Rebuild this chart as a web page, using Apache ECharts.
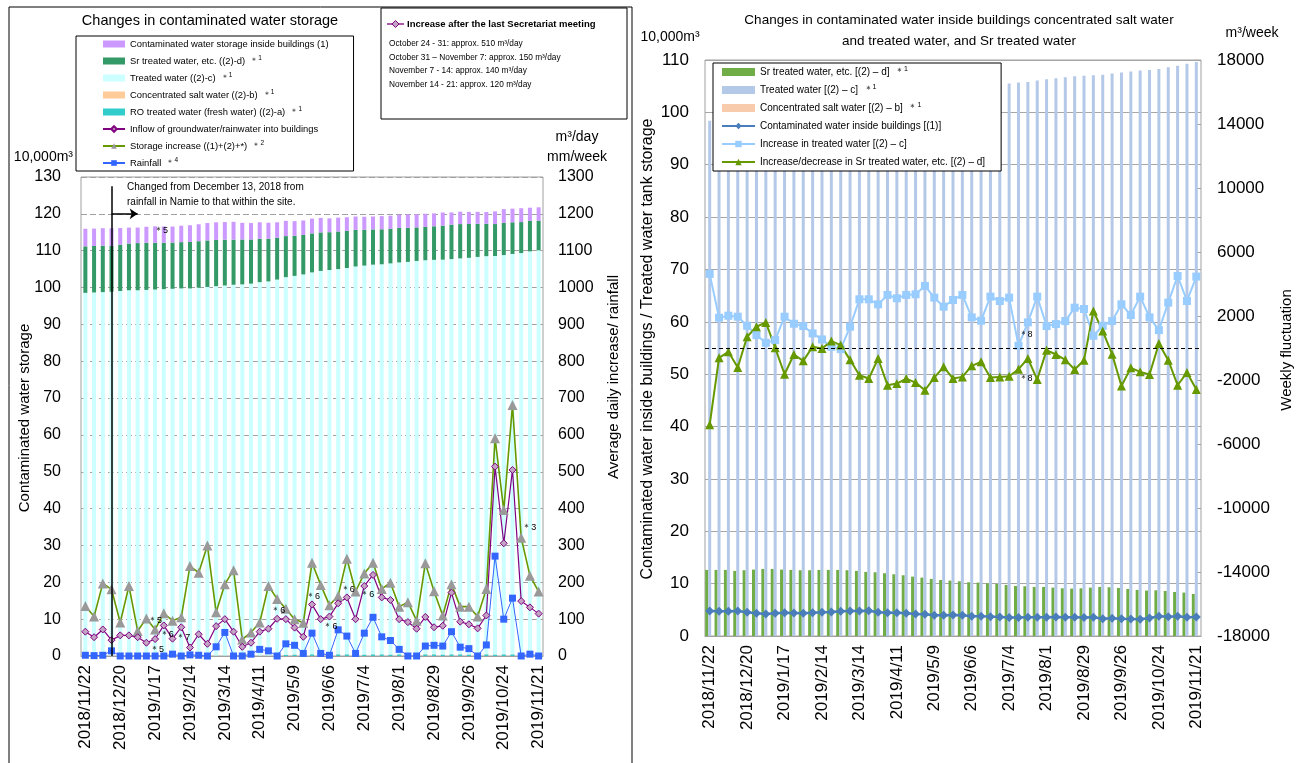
<!DOCTYPE html>
<html><head><meta charset="utf-8">
<script src="https://cdn.jsdelivr.net/npm/echarts@6/dist/echarts.min.js"></script>
<style>html,body{margin:0;padding:0;background:#fff}#c{width:1297px;height:763px}</style>
</head><body><div id="c"></div>
<script>
// ---------- DATA ----------
const categories = ['2018/11/22','2018/11/29','2018/12/6','2018/12/13','2018/12/20','2018/12/27',
 '2019/1/3','2019/1/10','2019/1/17','2019/1/24','2019/1/31','2019/2/7','2019/2/14','2019/2/21','2019/2/28',
 '2019/3/7','2019/3/14','2019/3/21','2019/3/28','2019/4/4','2019/4/11','2019/4/18','2019/4/25',
 '2019/5/2','2019/5/9','2019/5/16','2019/5/23','2019/5/30','2019/6/6','2019/6/13','2019/6/20','2019/6/27',
 '2019/7/4','2019/7/11','2019/7/18','2019/7/25','2019/8/1','2019/8/8','2019/8/15','2019/8/22','2019/8/29',
 '2019/9/5','2019/9/12','2019/9/19','2019/9/26','2019/10/3','2019/10/10','2019/10/17','2019/10/24','2019/10/31',
 '2019/11/7','2019/11/14','2019/11/21'];

// storage, 10,000 m3
const treatedWater = [98.4,98.5,98.6,98.7,98.9,99.1,99.1,99.2,99.3,99.4,99.5,99.6,99.6,99.8,100.0,100.2,100.4,100.6,100.7,100.9,
 101.3,101.5,102.0,102.4,102.7,103.1,103.6,104.0,104.3,104.5,104.8,105.2,105.5,105.7,105.8,106.1,106.3,106.5,106.7,106.9,
 107.0,107.1,107.2,107.4,107.6,107.8,108.0,108.1,108.3,108.6,108.9,109.3,109.6];
const srTreatedWater = [12.62,12.62,12.62,12.43,12.56,12.68,12.81,12.81,12.68,12.62,12.56,12.56,12.62,12.62,12.62,12.56,12.43,12.24,
 12.17,11.98,11.79,11.60,11.34,11.15,10.90,10.70,10.58,10.45,10.26,10.20,10.07,9.94,9.75,9.56,9.50,9.37,9.37,9.24,9.11,9.05,
 9.11,9.24,9.37,9.31,9.18,8.99,8.80,8.67,8.73,8.60,8.41,8.29,8.03];
const contaminatedInside = [4.78,4.72,4.72,4.78,4.53,4.33,4.21,4.33,4.46,4.40,4.33,4.46,4.53,4.59,4.72,4.78,4.78,4.84,4.53,4.46,
 4.46,4.33,4.21,4.14,3.95,3.95,4.02,3.95,3.76,3.76,3.70,3.63,3.51,3.51,3.57,3.57,3.57,3.63,3.57,3.57,
 3.51,3.57,3.31,3.38,3.31,3.25,3.19,3.44,3.76,3.70,3.76,3.57,3.63];
const concentratedSalt = [0.06,0.06,0.06,0.06,0.06,0.06,0.06,0.06,0.06,0.06,0.06,0.06,0.06,0.06,0.06,0.06,0.06,0.06,0.06,0.06,
 0.06,0.06,0.06,0.06,0.06,0.06,0.06,0.06,0.06,0.06,0.06,0.06,0.06,0.06,0.06,0.06,0.06,0.06,0.06,0.06,
 0.06,0.06,0.06,0.06,0.06,0.06,0.06,0.06,0.06,0.06,0.06,0.06,0.06];
const roTreatedWater = [0.10,0.10,0.10,0.10,0.10,0.10,0.10,0.10,0.10,0.10,0.10,0.10,0.10,0.10,0.10,0.10,0.10,0.10,0.10,0.10,
 0.10,0.10,0.10,0.35,0.40,0.40,0.45,0.45,0.40,0.45,0.45,0.45,0.40,0.45,0.45,0.40,0.45,0.40,0.45,0.45,
 0.45,0.40,0.45,0.45,0.40,0.45,0.45,0.40,0.45,0.45,0.40,0.45,0.45];

// left chart lines: m3/day and mm/week
const inflowGroundRain = [66,51,72,43,56,56,51,36,46,83,47,78,23,59,33,81,100,66,25,36,66,74,101,100,77,52,140,100,107,143,
 159,100,190,220,159,152,100,92,74,106,78,82,172,93,86,75,110,514,306,505,149,132,115];
const storageIncrease = [136,107,197,181,91,190,68,102,72,116,96,105,244,226,300,119,195,233,45,64,91,190,155,128,100,90,
 253,193,138,163,264,175,224,253,182,199,134,146,96,252,176,110,195,134,134,107,182,591,396,681,321,218,175];
const rainfall = [2,1,2,14,0,0,0,0,0,0,5,0,3,2,0,25,64,0,0,5,18,14,0,33,29,7,62,7,2,71,54,7,62,105,52,42,18,0,0,27,
 29,27,66,24,20,0,30,271,100,157,0,5,0];

// right chart lines: m3/week
const treatedWeeklyIncrease = [4631,1893,2019,1956,1392,807,326,493,1956,1517,1371,911,535,75,-71,1329,3043,3043,2729,3315,
 3106,3315,3356,3879,3148,2583,3001,3315,1914,1705,3210,2938,3148,138,1601,3210,1371,1496,1684,2520,
 2436,765,1392,1684,2729,2061,3210,1914,1120,2834,4504,2938,4462];
const srWeeklyChange = [-4794,-614,-238,-1220,702,1329,1601,13,-1639,-405,-803,75,-29,431,180,-740,-1701,-1910,-656,-2328,
 -2224,-1910,-2161,-2641,-1847,-1178,-1910,-1805,-1116,-865,-1847,-1805,-1764,-1325,-656,-1973,-134,-405,-740,-1346,
 -761,2311,1057,-384,-2370,-1241,-1492,-1659,284,-761,-2328,-1534,-2600];

// axis ranges [min, max, interval]
const leftStorageAxis = [0, 130, 10];
const leftRateAxis = [0, 1300, 100];
const rightStorageAxis = [0, 110, 10];
const rightWeeklyAxis = [-18000, 18000, 4000];

// ---------- CHART ----------
const F = 'Liberation Sans, Arial, sans-serif';
const chart = echarts.init(document.getElementById('c'), null, {renderer: 'canvas'});

const suffix = {
  'Sr treated water, etc. ((2)-d)': '1', 'Treated water ((2)-c)': '1', 'Concentrated salt water ((2)-b)': '1',
  'RO treated water (fresh water) ((2)-a)': '1', 'Storage increase ((1)+(2)+*)': '2', 'Rainfall': '4',
  'Sr treated water, etc. [(2) – d]': '1', 'Treated water [(2) – c]': '1', 'Concentrated salt water [(2) – b]': '1'
};
const fmt = n => suffix[n] ? n + '  {a|＊}{s|' + suffix[n] + '}' : n;

const totalAt = i => roTreatedWater[i] + concentratedSalt[i] + treatedWater[i] + srTreatedWater[i] + contaminatedInside[i];

function note(i, val, txt, dx, dy) {
  return {coord: [categories[i], val], value: txt, label: {offset: [dx, dy]}};
}
const markBase = {
  symbol: 'circle', symbolSize: 1, itemStyle: {color: 'rgba(0,0,0,0)'}, silent: true,
  label: {show: true, position: 'inside', formatter: p => p.value, color: '#000', fontSize: 9, fontFamily: F}
};

const axisLbl = (size, margin) => ({fontSize: size, margin: margin, color: '#000', fontFamily: F, formatter: v => String(v)});

const option = {
  animation: false,
  textStyle: {fontFamily: F},
  grid: [
    {left: 81, top: 177, width: 462, height: 479, show: true, borderColor: '#a0a0a0', borderWidth: 1, backgroundColor: 'transparent'},
    {left: 705, top: 60, width: 496, height: 576, show: true, borderColor: '#a0a0a0', borderWidth: 1, backgroundColor: 'transparent'}
  ],
  xAxis: [
    {type: 'category', gridIndex: 0, data: categories, axisLine: {lineStyle: {color: '#a0a0a0'}}, axisTick: {show: false},
     axisLabel: {fontSize: 17, margin: 9, color: '#000', fontFamily: F, interval: 3, rotate: 90}, splitLine: {show: false}},
    {type: 'category', gridIndex: 1, data: categories, axisLine: {lineStyle: {color: '#a0a0a0'}}, axisTick: {show: false},
     axisLabel: {fontSize: 17, margin: 9, color: '#000', fontFamily: F, interval: 3, rotate: 90}, splitLine: {show: false}}
  ],
  yAxis: [
    {type: 'value', gridIndex: 0, position: 'left', min: leftStorageAxis[0], max: leftStorageAxis[1], interval: leftStorageAxis[2],
     axisLabel: axisLbl(16, 20), axisLine: {show: false}, axisTick: {show: false},
     splitLine: {show: true, lineStyle: {color: '#a0a0a0', type: [6, 3], width: 1}}},
    {type: 'value', gridIndex: 0, position: 'right', min: leftRateAxis[0], max: leftRateAxis[1], interval: leftRateAxis[2],
     axisLabel: axisLbl(16, 15), axisLine: {show: false}, axisTick: {show: false}, splitLine: {show: false}},
    {type: 'value', gridIndex: 1, position: 'left', min: rightStorageAxis[0], max: rightStorageAxis[1], interval: rightStorageAxis[2],
     axisLabel: axisLbl(17, 16), axisLine: {show: false}, axisTick: {show: false},
     splitLine: {show: true, lineStyle: {color: '#a6a6a6', width: 1}}},
    {type: 'value', gridIndex: 1, position: 'right', min: rightWeeklyAxis[0], max: rightWeeklyAxis[1], interval: rightWeeklyAxis[2],
     axisLabel: axisLbl(17, 16), axisLine: {show: false},
     axisTick: {show: true, inside: true, length: 5, lineStyle: {color: '#a0a0a0'}}, splitLine: {show: false}}
  ],
  legend: [
    {data: [
       {name: 'Contaminated water storage inside buildings (1)', icon: 'rect'},
       {name: 'Sr treated water, etc. ((2)-d)', icon: 'rect'},
       {name: 'Treated water ((2)-c)', icon: 'rect'},
       {name: 'Concentrated salt water ((2)-b)', icon: 'rect'},
       {name: 'RO treated water (fresh water) ((2)-a)', icon: 'rect'},
       'Inflow of groundwater/rainwater into buildings', 'Storage increase ((1)+(2)+*)', 'Rainfall'],
     left: 76, top: 36, orient: 'vertical', padding: [2, 25, 2, 26], itemGap: 5, itemWidth: 22, itemHeight: 7,
     borderColor: '#000', borderWidth: 1, backgroundColor: '#fff', selectedMode: false, formatter: fmt,
     textStyle: {fontSize: 9.4, fontFamily: F, lineHeight: 12, color: '#000',
       rich: {a: {fontSize: 8, fontFamily: F}, s: {fontSize: 6.5, fontFamily: F, verticalAlign: 'top'}}}},
    {data: [
       {name: 'Sr treated water, etc. [(2) – d]', icon: 'rect'},
       {name: 'Treated water [(2) – c]', icon: 'rect'},
       {name: 'Concentrated salt water [(2) – b]', icon: 'rect'},
       'Contaminated water inside buildings [(1)]', 'Increase in treated water [(2) – c]',
       'Increase/decrease in Sr treated water, etc. [(2) – d]'],
     left: 713, top: 63, orient: 'vertical', padding: [3, 16, 3, 8], itemGap: 6, itemWidth: 33, itemHeight: 8,
     borderColor: '#000', borderWidth: 1, backgroundColor: '#fff', selectedMode: false, formatter: fmt,
     textStyle: {fontSize: 10, fontFamily: F, lineHeight: 12, color: '#000',
       rich: {a: {fontSize: 8.5, fontFamily: F}, s: {fontSize: 7, fontFamily: F, verticalAlign: 'top'}}}}
  ],
  series: [
    // ---- left chart stacked bars ----
    {name: 'RO treated water (fresh water) ((2)-a)', type: 'bar', xAxisIndex: 0, yAxisIndex: 0, stack: 'L', barWidth: '46%',
     data: roTreatedWater, itemStyle: {color: '#33cccc'},
     markLine: {silent: true, symbol: ['none', 'none'], label: {show: false}, lineStyle: {color: '#000', width: 1.5, type: 'solid'},
       data: [
         [{coord: [categories[3], 0]}, {coord: [categories[3], 127.5]}],
         [{coord: [categories[3], 120]}, {coord: [categories[6], 120], symbol: 'arrow', symbolSize: 8}]
       ]}},
    {name: 'Concentrated salt water ((2)-b)', type: 'bar', xAxisIndex: 0, yAxisIndex: 0, stack: 'L', barWidth: '46%',
     data: concentratedSalt, itemStyle: {color: '#ffcc99'}},
    {name: 'Treated water ((2)-c)', type: 'bar', xAxisIndex: 0, yAxisIndex: 0, stack: 'L', barWidth: '46%',
     data: treatedWater, itemStyle: {color: '#ccffff'}},
    {name: 'Sr treated water, etc. ((2)-d)', type: 'bar', xAxisIndex: 0, yAxisIndex: 0, stack: 'L', barWidth: '46%',
     data: srTreatedWater, itemStyle: {color: '#339966'}},
    {name: 'Contaminated water storage inside buildings (1)', type: 'bar', xAxisIndex: 0, yAxisIndex: 0, stack: 'L', barWidth: '46%',
     data: contaminatedInside, itemStyle: {color: '#cc99ff'},
     markPoint: Object.assign({}, markBase, {data: [note(8, totalAt(8), '＊5', 6, 4)]})},
    // ---- left chart lines ----
    {name: 'Rainfall', type: 'line', xAxisIndex: 0, yAxisIndex: 1, data: rainfall, showAllSymbol: true,
     lineStyle: {color: '#3366ff', width: 1}, itemStyle: {color: '#3366ff'}, symbol: 'rect', symbolSize: 7},
    {name: 'Storage increase ((1)+(2)+*)', type: 'line', xAxisIndex: 0, yAxisIndex: 1, data: storageIncrease, showAllSymbol: true,
     lineStyle: {color: '#669900', width: 1.6}, itemStyle: {color: '#999999'}, symbol: 'triangle', symbolSize: 10,
     markPoint: Object.assign({}, markBase, {data: [note(8, storageIncrease[8], '＊5', 0, -9), note(50, storageIncrease[50], '＊3', 8, -10)]})},
    {name: 'Inflow of groundwater/rainwater into buildings', type: 'line', xAxisIndex: 0, yAxisIndex: 1, data: inflowGroundRain, showAllSymbol: true,
     lineStyle: {color: '#800080', width: 1.2}, itemStyle: {color: '#c3a3c3', borderColor: '#800080', borderWidth: 1},
     symbol: 'diamond', symbolSize: 7,
     markPoint: Object.assign({}, markBase, {data: [
       note(8, inflowGroundRain[8], '＊5', 2, 10), note(9, inflowGroundRain[9], '＊6', 3, 9), note(11, inflowGroundRain[11], '＊7', 2, 10),
       note(22, inflowGroundRain[22], '＊6', 1, -8), note(26, inflowGroundRain[26], '＊6', 1, -8), note(28, inflowGroundRain[28], '＊6', 1, 10),
       note(30, inflowGroundRain[30], '＊6', 1, -8), note(32, inflowGroundRain[32], '＊6', 3, 9)]})},
    // ---- right chart bars ----
    {name: 'Sr treated water, etc. [(2) – d]', type: 'bar', xAxisIndex: 1, yAxisIndex: 2, barWidth: '32%', barGap: '0%',
     data: srTreatedWater, itemStyle: {color: '#70ad47'}},
    {name: 'Treated water [(2) – c]', type: 'bar', xAxisIndex: 1, yAxisIndex: 2, barWidth: '32%', barGap: '0%',
     data: treatedWater, itemStyle: {color: '#b4c8e8'}},
    {name: 'Concentrated salt water [(2) – b]', type: 'bar', xAxisIndex: 1, yAxisIndex: 2, barWidth: '32%', barGap: '0%',
     data: concentratedSalt, itemStyle: {color: '#f8cbad'}},
    // ---- right chart lines ----
    {name: 'Contaminated water inside buildings [(1)]', type: 'line', xAxisIndex: 1, yAxisIndex: 2, data: contaminatedInside, showAllSymbol: true,
     lineStyle: {color: '#4a7ebb', width: 2.5}, itemStyle: {color: '#4a7ebb'}, symbol: 'diamond', symbolSize: 9},
    {name: 'Increase in treated water [(2) – c]', type: 'line', xAxisIndex: 1, yAxisIndex: 3, data: treatedWeeklyIncrease, showAllSymbol: true,
     lineStyle: {color: '#99ccff', width: 2}, itemStyle: {color: '#99ccff'}, symbol: 'rect', symbolSize: 8,
     markPoint: Object.assign({}, markBase, {data: [note(33, treatedWeeklyIncrease[33], '＊8', 7, -11)]})},
    {name: 'Increase/decrease in Sr treated water, etc. [(2) – d]', type: 'line', xAxisIndex: 1, yAxisIndex: 3, data: srWeeklyChange, showAllSymbol: true,
     lineStyle: {color: '#669900', width: 2}, itemStyle: {color: '#669900'}, symbol: 'triangle', symbolSize: 9,
     markLine: {silent: true, symbol: ['none', 'none'], label: {show: false},
       lineStyle: {color: '#000', width: 1.2, type: [4, 3]}, data: [{yAxis: 0}]},
     markPoint: Object.assign({}, markBase, {data: [note(33, srWeeklyChange[33], '＊8', 7, 9)]})}
  ],
  graphic: {elements: [
    {type: 'rect', silent: true, z: 0, shape: {x: 9, y: 7, width: 623, height: 770}, style: {fill: 'none', stroke: '#000', lineWidth: 1}},
    // left texts
    {type: 'text', x: 210, y: 21, style: {text: 'Changes in contaminated water storage', font: '14.5px ' + F, fill: '#000', align: 'center', verticalAlign: 'middle'}},
    {type: 'text', x: 73, y: 157, style: {text: '10,000m³', font: '14px ' + F, fill: '#000', align: 'right', verticalAlign: 'middle'}},
    {type: 'text', x: 577, y: 137, style: {text: 'm³/day', font: '14px ' + F, fill: '#000', align: 'center', verticalAlign: 'middle'}},
    {type: 'text', x: 577, y: 157, style: {text: 'mm/week', font: '14px ' + F, fill: '#000', align: 'center', verticalAlign: 'middle'}},
    {type: 'text', x: 25, y: 418, rotation: Math.PI / 2, style: {text: 'Contaminated water storage', font: '15px ' + F, fill: '#000', align: 'center', verticalAlign: 'middle'}},
    {type: 'text', x: 614, y: 377, rotation: Math.PI / 2, style: {text: 'Average daily increase/ rainfall', font: '15px ' + F, fill: '#000', align: 'center', verticalAlign: 'middle'}},
    {type: 'text', x: 127, y: 194.5, z: 10, style: {text: 'Changed from December 13, 2018 from\nrainfall in Namie to that within the site.', font: '10px ' + F, lineHeight: 15.5, fill: '#000', verticalAlign: 'middle'}},
    // info box
    {type: 'rect', z: 10, shape: {x: 381, y: 8, width: 246, height: 111}, style: {fill: '#fff', stroke: '#000', lineWidth: 1}},
    {type: 'line', z: 11, shape: {x1: 387, y1: 24, x2: 404, y2: 24}, style: {stroke: '#800080', lineWidth: 1.3}},
    {type: 'polygon', z: 12, shape: {points: [[395.5, 20.5], [399, 24], [395.5, 27.5], [392, 24]]}, style: {fill: '#c3a3c3', stroke: '#800080', lineWidth: 1}},
    {type: 'text', z: 12, x: 407, y: 24, style: {text: 'Increase after the last Secretariat meeting', font: 'bold 9.5px ' + F, fill: '#000', verticalAlign: 'middle'}},
    {type: 'text', z: 12, x: 389, y: 44, style: {text: 'October 24 - 31: approx. 510 m³/day', font: '8.3px ' + F, fill: '#000', verticalAlign: 'middle'}},
    {type: 'text', z: 12, x: 389, y: 57.5, style: {text: 'October 31 – November 7: approx. 150 m³/day', font: '8.3px ' + F, fill: '#000', verticalAlign: 'middle'}},
    {type: 'text', z: 12, x: 389, y: 71, style: {text: 'November 7 - 14: approx. 140 m³/day', font: '8.3px ' + F, fill: '#000', verticalAlign: 'middle'}},
    {type: 'text', z: 12, x: 389, y: 84.5, style: {text: 'November 14 - 21: approx. 120 m³/day', font: '8.3px ' + F, fill: '#000', verticalAlign: 'middle'}},
    // right texts
    {type: 'text', x: 959, y: 20, style: {text: 'Changes in contaminated water inside buildings concentrated salt water', font: '13.5px ' + F, fill: '#000', align: 'center', verticalAlign: 'middle'}},
    {type: 'text', x: 959, y: 41, style: {text: 'and treated water, and Sr treated water', font: '13.5px ' + F, fill: '#000', align: 'center', verticalAlign: 'middle'}},
    {type: 'text', x: 670, y: 37, style: {text: '10,000m³', font: '14px ' + F, fill: '#000', align: 'center', verticalAlign: 'middle'}},
    {type: 'text', x: 1252, y: 33, style: {text: 'm³/week', font: '14px ' + F, fill: '#000', align: 'center', verticalAlign: 'middle'}},
    {type: 'text', x: 648, y: 349, rotation: Math.PI / 2, style: {text: 'Contaminated water inside buildings / Treated water tank storage', font: '16px ' + F, fill: '#000', align: 'center', verticalAlign: 'middle'}},
    {type: 'text', x: 1287, y: 350, rotation: Math.PI / 2, style: {text: 'Weekly fluctuation', font: '15px ' + F, fill: '#000', align: 'center', verticalAlign: 'middle'}}
  ]}
};
chart.setOption(option);
</script>
</body></html>
